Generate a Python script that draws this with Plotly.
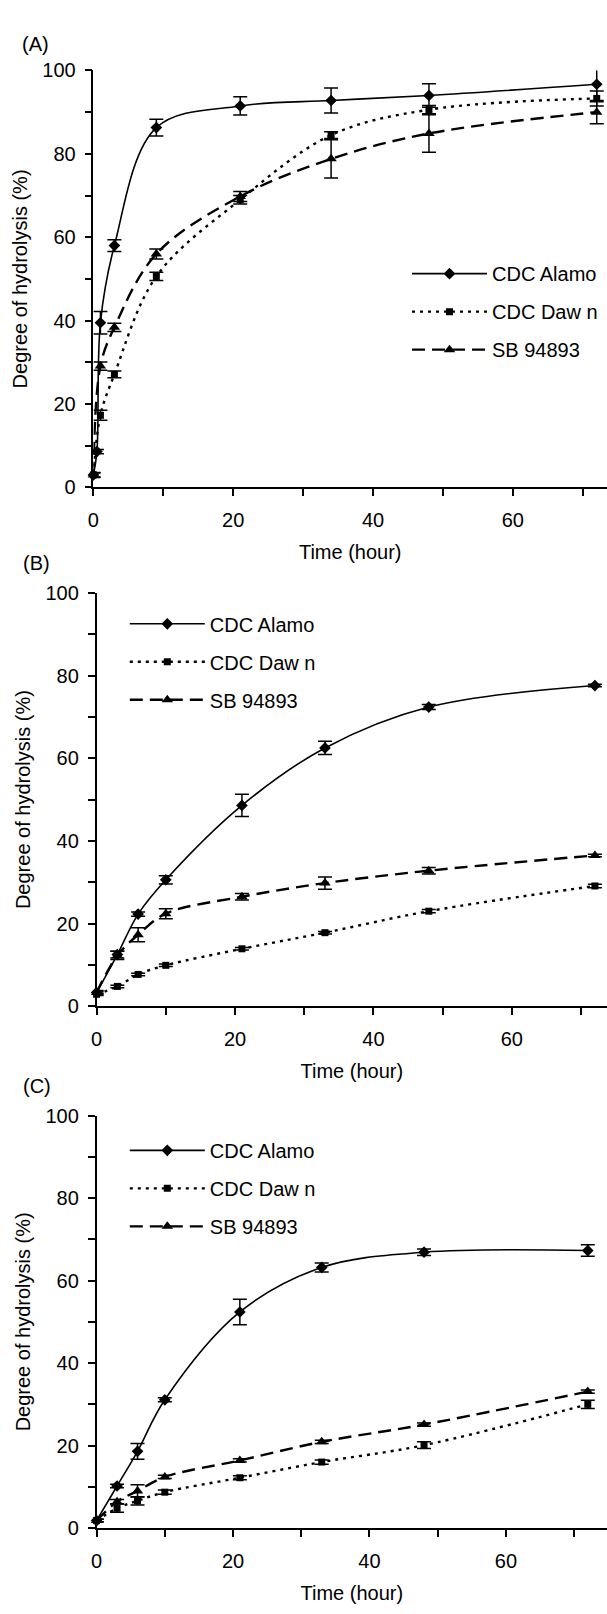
import plotly.graph_objects as go

W, H = 607, 1614

# ---------------- data ----------------
series_names = ["CDC Alamo", "CDC Daw n", "SB 94893"]

# Panel A
time_a = [0, 1, 3, 9, 21, 34, 48, 72]
time_a_alamo = [0, 0.5, 1, 3, 9, 21, 34, 48, 72]
alamo_a = [3.0, 8.6, 39.5, 58.0, 86.3, 91.5, 92.8, 94.0, 96.7]
alamo_a_err = [0.5, 0.5, 2.7, 1.4, 2.0, 2.2, 3.0, 2.8, 4.2]
dawn_a = [3.0, 17.3, 27.1, 50.6, 69.0, 84.5, 90.6, 93.3]
dawn_a_err = [0.6, 1.2, 0.8, 1.0, 1.0, 0.8, 1.0, 1.8]
sb_a = [3.0, 29.1, 38.4, 56.0, 69.8, 78.8, 84.9, 90.0]
sb_a_err = [0.5, 1.0, 1.0, 1.2, 1.2, 4.6, 4.5, 2.8]

# Panel B
time_b = [0, 3, 6, 10, 21, 33, 48, 72]
alamo_b = [3.3, 12.5, 22.3, 30.6, 48.6, 62.5, 72.4, 77.6]
alamo_b_err = [0.5, 0.8, 0.5, 1.0, 2.7, 1.6, 0.6, 0.3]
dawn_b = [2.9, 4.8, 7.7, 9.9, 13.9, 17.8, 23.0, 29.1]
dawn_b_err = [0.3, 0.3, 0.3, 0.3, 0.3, 0.3, 0.4, 0.4]
sb_b = [3.3, 12.3, 17.3, 22.4, 26.5, 29.8, 32.8, 36.5]
sb_b_err = [0.3, 1.0, 1.7, 1.2, 0.8, 1.5, 0.8, 0.3]

# Panel C
time_c = [0, 3, 6, 10, 21, 33, 48, 72]
alamo_c = [1.8, 10.2, 18.6, 31.1, 52.4, 63.2, 66.9, 67.3]
alamo_c_err = [0.3, 0.4, 1.9, 0.5, 3.1, 1.1, 0.8, 1.4]
dawn_c = [1.8, 4.8, 6.6, 8.7, 12.2, 16.0, 20.1, 30.0]
dawn_c_err = [0.3, 1.0, 1.0, 0.5, 0.5, 0.5, 0.8, 1.0]
sb_c = [1.8, 6.4, 9.0, 12.4, 16.4, 20.9, 25.1, 33.1]
sb_c_err = [0.3, 0.5, 1.5, 0.4, 0.4, 0.4, 0.4, 0.4]

panel_labels = ["(A)", "(B)", "(C)"]
x_title = "Time (hour)"
y_title = "Degree of hydrolysis (%)"
x_ticks = [0, 20, 40, 60]
y_ticks = [0, 20, 40, 60, 80, 100]

# ---------------- styling ----------------
FONT = "Liberation Sans, Arial, sans-serif"
styles = {
    "CDC Alamo": dict(symbol="diamond", size=9, dash="solid", width=1.6),
    "CDC Daw n": dict(symbol="square", size=7, dash="3px,5px", width=2.4),
    "SB 94893": dict(symbol="triangle-up", size=10, dash="13px,7px", width=2.4),
}

def px_x(p):
    return p / W

def px_y(p):
    return 1 - p / H

# geometry per panel (pixel positions of axes, legend top-left, panel label)
geo = [
    dict(x0=88.3, xs=7.06, y0=483.0, y100=60.3, leg=(405, 246.5), lab=(30, 33)),
    dict(x0=91.5, xs=6.99, y0=1009.0, y100=590.0, leg=(120, 601.5), lab=(31, 560)),
    dict(x0=91.5, xs=6.89, y0=1538.0, y100=1120.0, leg=(120, 1135.3), lab=(31, 1090)),
]

panel_data = [
    [(time_a_alamo, alamo_a, alamo_a_err), (time_a, dawn_a, dawn_a_err), (time_a, sb_a, sb_a_err)],
    [(time_b, alamo_b, alamo_b_err), (time_b, dawn_b, dawn_b_err), (time_b, sb_b, sb_b_err)],
    [(time_c, alamo_c, alamo_c_err), (time_c, dawn_c, dawn_c_err), (time_c, sb_c, sb_c_err)],
]

fig = go.Figure()
layout_updates = {}
annotations = []

for i, (g, pdata) in enumerate(zip(geo, panel_data)):
    suf = "" if i == 0 else str(i + 1)
    leg = "legend" + suf
    for name, (t, v, e) in zip(series_names, pdata):
        st = styles[name]
        fig.add_trace(go.Scatter(
            x=t, y=v, name=name, mode="lines+markers",
            xaxis="x" + suf, yaxis="y" + suf, legend=leg,
            legendgroup=f"{name}-{i}",
            line=dict(color="black", width=st["width"], dash=st["dash"],
                      shape="spline", smoothing=1.0),
            marker=dict(symbol=st["symbol"], size=st["size"], color="black"),
            error_y=dict(type="data", array=e, visible=True, color="black",
                         thickness=1.5, width=7),
            cliponaxis=False,
        ))
    xmax = (W - g["x0"]) / g["xs"]
    axis_common = dict(
        showline=True, linecolor="black", linewidth=1.5, mirror=False,
        ticks="outside", ticklen=7, tickwidth=1.5, tickcolor="black",
        showgrid=False, zeroline=False,
        tickfont=dict(family=FONT, size=20, color="black"),
    )
    layout_updates["xaxis" + suf] = dict(
        axis_common,
        domain=[px_x(g["x0"]), 1.0], range=[0, xmax],
        anchor="y" + suf, tickvals=x_ticks, ticklabelstandoff=7,
        minor=dict(ticks="outside", dtick=10, tick0=0, ticklen=7, tickwidth=1.5, tickcolor="black"),
        title=dict(text=x_title, font=dict(family=FONT, size=20, color="black"), standoff=15),
    )
    layout_updates["yaxis" + suf] = dict(
        axis_common,
        domain=[px_y(g["y0"]), px_y(g["y100"])], range=[0, 100],
        anchor="x" + suf, tickvals=y_ticks, ticklabelstandoff=5,
        minor=dict(ticks="outside", dtick=10, tick0=0, ticklen=7, tickwidth=1.5, tickcolor="black"),
        title=dict(text=y_title, font=dict(family=FONT, size=20, color="black"), standoff=9),
    )
    layout_updates[leg] = dict(
        x=px_x(g["leg"][0]), y=px_y(g["leg"][1]), xanchor="left", yanchor="top",
        font=dict(family=FONT, size=20, color="black"),
        bgcolor="rgba(0,0,0,0)", borderwidth=0, itemwidth=75,
        traceorder="grouped", tracegroupgap=9,
    )
    annotations.append(dict(
        text=panel_labels[i], x=px_x(g["lab"][0]), y=px_y(g["lab"][1]),
        xref="paper", yref="paper", xanchor="center", yanchor="middle",
        showarrow=False, font=dict(family=FONT, size=20, color="black"),
    ))

fig.update_layout(
    width=W, height=H,
    margin=dict(l=0, r=0, t=0, b=0),
    paper_bgcolor="white", plot_bgcolor="white",
    showlegend=True,
    annotations=annotations,
    **layout_updates,
)

fig.write_html("out.html",
               config={"displayModeBar": False},
               post_script="document.body.style.margin='0px';document.body.style.padding='0px';")
